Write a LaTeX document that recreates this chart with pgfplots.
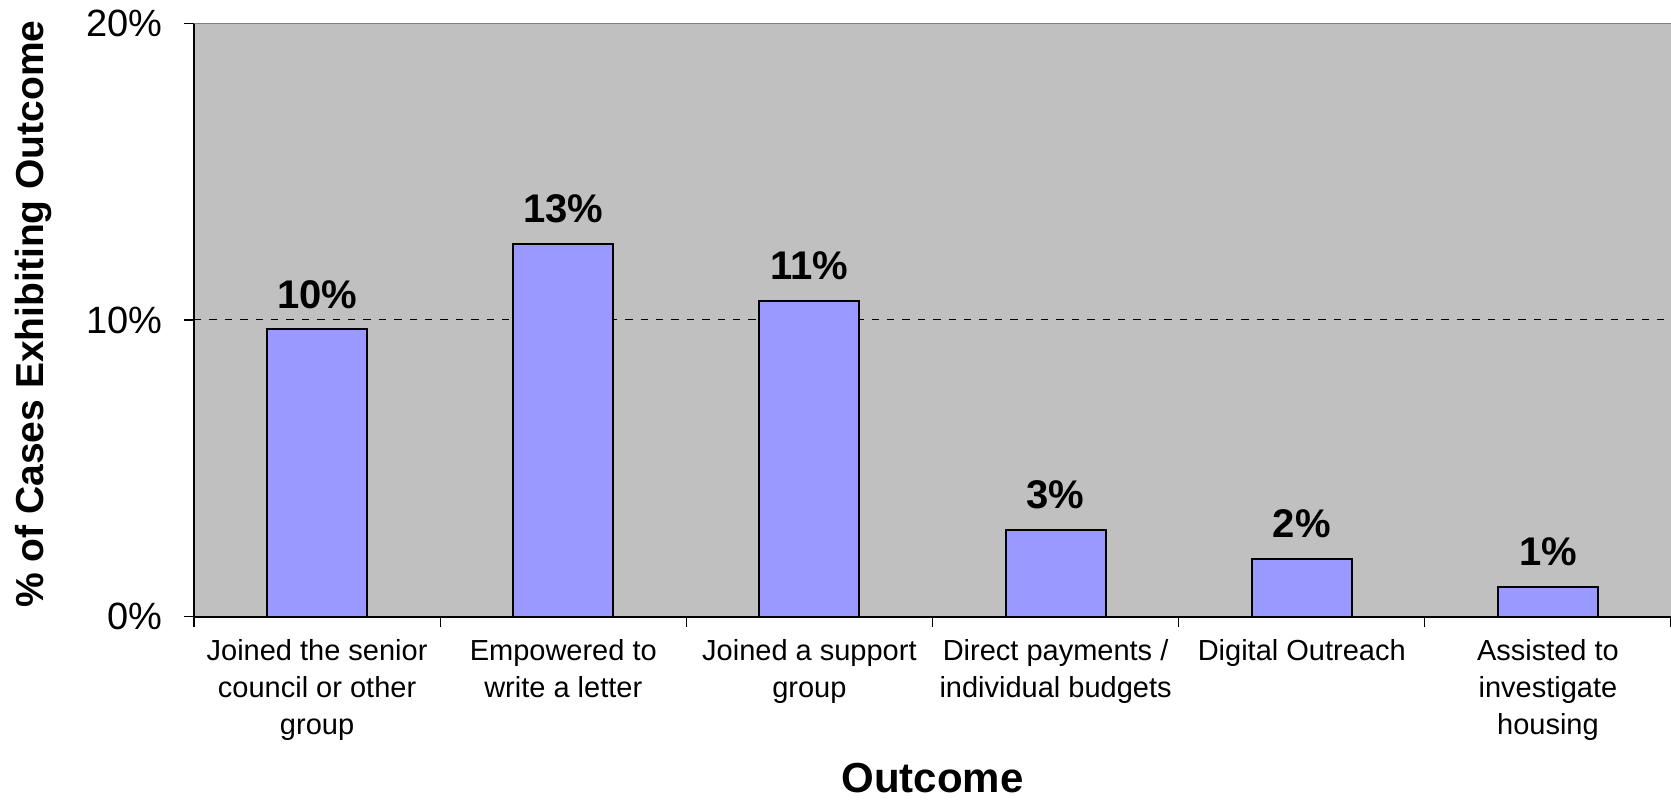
\documentclass[border=0pt]{standalone}
\usepackage{fontspec}
\setmainfont{Liberation Sans}
\usepackage{pgfplots}
\pgfplotsset{compat=1.18}
\definecolor{plotbg}{HTML}{C0C0C0}
\definecolor{barfill}{HTML}{9999FF}
\definecolor{topline}{HTML}{808080}
\begin{document}
\begin{tikzpicture}
\begin{axis}[
  scale only axis,
  width=738.5pt, height=296.5pt,
  xmin=-0.5, xmax=5.5, ymin=0, ymax=20,
  axis x line*=bottom, axis y line*=left,
  axis line style={black, line width=1pt},
  axis background/.style={fill=plotbg},
  ybar, bar width=0.406,
  xtick={-0.5,0.5,1.5,2.5,3.5,4.5,5.5},
  x tick label as interval,
  xticklabels={{Joined the senior\\council or other\\group},{Empowered to\\write a letter},{Joined a support\\group},{Direct payments /\\individual budgets},{Digital Outreach},{Assisted to\\investigate\\housing}},
  xticklabel style={align=center, font=\fontsize{14.5}{18.4}\selectfont, inner sep=0pt, anchor=north, yshift=-6.3pt},
  ytick={0,10,20}, yticklabels={0\%,10\%,20\%},
  yticklabel style={font=\fontsize{19}{22}\selectfont, inner sep=0pt, anchor=east, xshift=-10.5pt},
  extra y ticks={10}, extra y tick labels={},
  extra y tick style={grid=major, major grid style={black, line width=0.5pt, dash pattern=on 3.7pt off 4pt}},
  tick align=outside,
  major tick length=5pt,
  tick style={black, line width=0.6pt},
  ylabel={\% of Cases Exhibiting Outcome},
  ylabel style={font=\bfseries\fontsize{19.5}{23}\selectfont, at={(axis description cs:-0.1085,0.51)}, anchor=center},
  xlabel={Outcome},
  xlabel style={font=\bfseries\fontsize{21}{25}\selectfont, at={(axis description cs:0.5,-0.272)}, anchor=center},
  nodes near coords,
  point meta=explicit symbolic,
  every node near coord/.append style={font=\bfseries\fontsize{20}{24}\selectfont, inner sep=0pt, anchor=south, yshift=10pt, black},
]
\addplot[fill=barfill, draw=black, line width=1pt] coordinates {
  (0,9.68) [10\%]
  (1,12.55) [13\%]
  (2,10.65) [11\%]
  (3,2.91) [3\%]
  (4,1.94) [2\%]
  (5,1.0) [1\%]
};
\draw[topline, line width=1pt] (rel axis cs:0,1) -- (rel axis cs:1,1);
\end{axis}
\pgfresetboundingbox
\path[use as bounding box] ([shift={(-97pt,-92pt)}]current axis.south west) rectangle ([shift={(0pt,11.75pt)}]current axis.north east);
\end{tikzpicture}
\end{document}
